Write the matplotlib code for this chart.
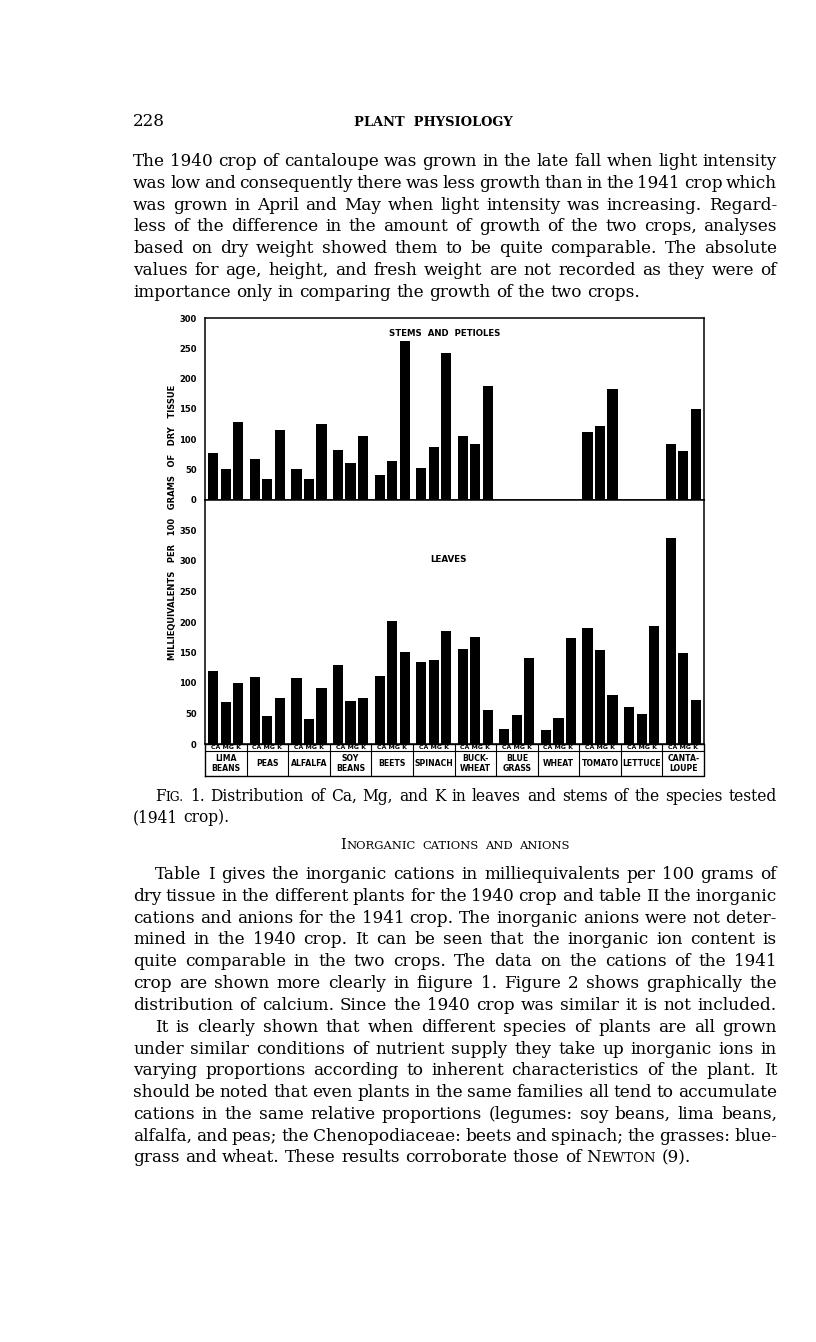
import matplotlib
matplotlib.use("Agg")
import matplotlib.pyplot as plt
import numpy as np

W, H = 816, 1342
SERIF = "DejaVu Serif"
SANS = "DejaVu Sans"

# chart data (milliequivalents per 100 g dry tissue, 1941 crop)
crops = ["LIMA\nBEANS", "PEAS", "ALFALFA", "SOY\nBEANS", "BEETS", "SPINACH",
         "BUCK-\nWHEAT", "BLUE\nGRASS", "WHEAT", "TOMATO", "LETTUCE", "CANTA-\nLOUPE"]
ions = ["Ca", "Mg", "K"]
nan = np.nan
stems_ca = [77, 68, 51, 82, 42, 52, 106, nan, nan, 112, nan, 93]
stems_mg = [51, 34, 34, 61, 65, 87, 93, nan, nan, 122, nan, 81]
stems_k = [128, 116, 125, 105, 262, 242, 188, nan, nan, 183, nan, 150]
leaves_ca = [119, 110, 109, 129, 111, 134, 156, 24, 23, 190, 60, 338]
leaves_mg = [69, 46, 41, 70, 201, 138, 175, 48, 42, 154, 50, 150]
leaves_k = [100, 76, 92, 76, 151, 185, 55, 141, 173, 80, 194, 72]
stem_ticks = [0, 50, 100, 150, 200, 250, 300]
leaf_ticks = [0, 50, 100, 150, 200, 250, 300, 350]

# page text
para1 = [
    "The 1940 crop of cantaloupe was grown in the late fall when light intensity",
    "was low and consequently there was less growth than in the 1941 crop which",
    "was grown in April and May when light intensity was increasing.  Regard-",
    "less of the difference in the amount of growth of the two crops, analyses",
    "based on dry weight showed them to be quite comparable.  The absolute",
    "values for age, height, and fresh weight are not recorded as they were of",
    "importance only in comparing the growth of the two crops.",
]
para2 = [
    "Table I gives the inorganic cations in milliequivalents per 100 grams of",
    "dry tissue in the different plants for the 1940 crop and table II the inorganic",
    "cations and anions for the 1941 crop.  The inorganic anions were not deter-",
    "mined in the 1940 crop.  It can be seen that the inorganic ion content is",
    "quite comparable in the two crops.  The data on the cations of the 1941",
    "crop are shown more clearly in fiigure 1.  Figure 2 shows graphically the",
    "distribution of calcium.  Since the 1940 crop was similar it is not included.",
]
para3 = [
    "It is clearly shown that when different species of plants are all grown",
    "under similar conditions of nutrient supply they take up inorganic ions in",
    "varying proportions according to inherent characteristics of the plant.  It",
    "should be noted that even plants in the same families all tend to accumulate",
    "cations in the same relative proportions (legumes: soy beans, lima beans,",
    "alfalfa, and peas; the Chenopodiaceae: beets and spinach; the grasses: blue-",
    "grass and wheat.  These results corroborate those of ~Newton (9).",
]

fig = plt.figure(figsize=(W / 100, H / 100), dpi=100)
renderer = fig.canvas.get_renderer()


def make_word(word, size):
    # a leading '~' means small caps: capitals full size, the rest smaller capitals
    if word.startswith("~"):
        runs = []
        for ch in word[1:]:
            big = ch.isupper()
            if runs and runs[-1][1] == big:
                runs[-1][0] += ch
            else:
                runs.append([ch, big])
        specs = [(r.upper(), size if big else size * 0.78) for r, big in runs]
    else:
        specs = [(word, size)]
    parts = []
    off = 0
    for s, sz in specs:
        t = fig.text(0, 0, s, fontsize=sz, family=SERIF, va="baseline", ha="left")
        parts.append((t, off))
        off += t.get_window_extent(renderer).width
    return parts, off


def text_line(line, x0, x1, y, size, justify=True, center=None):
    words = [make_word(w, size) for w in line.split()]
    total = sum(w for _, w in words)
    space = 0.318 * size * 100 / 72
    n = len(words) - 1
    gap = (x1 - x0 - total) / n if (justify and n > 0) else space
    if center is not None:
        gap = space * 1.4
        x0 = center - (total + gap * n) / 2
    x = x0
    for parts, w in words:
        for t, off in parts:
            t.set_position(((x + off) / W, 1 - y / H))
        x += w + gap


LEFT, RIGHT, INDENT = 133, 777, 155
STEP = 21.8
BODY = 12.2

# running head
fig.text(LEFT / W, 1 - 126 / H, "228", fontsize=BODY, family=SERIF, va="baseline")
fig.text(433 / W, 1 - 126 / H, "PLANT  PHYSIOLOGY", fontsize=9.4, family=SERIF,
         va="baseline", ha="center", weight="bold")

for i, line in enumerate(para1):
    text_line(line, LEFT, RIGHT, 166 + STEP * i, BODY, justify=i < len(para1) - 1)

# caption and heading
text_line("~Fig. 1.  Distribution of Ca, Mg, and K in leaves and stems of the species tested",
          INDENT, RIGHT, 801, 11.2)
text_line("(1941 crop).", LEFT, RIGHT, 822, 11.2, justify=False)
text_line("~Inorganic ~cations ~and ~anions", LEFT, RIGHT, 849, 10.6, center=455)

for i, line in enumerate(para2):
    text_line(line, INDENT if i == 0 else LEFT, RIGHT, 879 + STEP * i, BODY)
for i, line in enumerate(para3):
    text_line(line, INDENT if i == 0 else LEFT, RIGHT, 1031.7 + STEP * i, BODY,
              justify=i < len(para3) - 1)

# chart
x0, x1 = 205, 704
ax_s = fig.add_axes([x0 / W, 1 - 500 / H, (x1 - x0) / W, 182 / H])
ax_l = fig.add_axes([x0 / W, 1 - 744 / H, (x1 - x0) / W, 244 / H])
groups = np.arange(len(crops))
offsets = [0.2, 0.5, 0.8]

for ax, series, ymax, ticks in [
    (ax_s, [stems_ca, stems_mg, stems_k], 300, stem_ticks),
    (ax_l, [leaves_ca, leaves_mg, leaves_k], 400, leaf_ticks),
]:
    for off, vals in zip(offsets, series):
        ax.bar(groups + off, vals, width=0.245, color="black", linewidth=0)
    ax.set_xlim(0, len(crops))
    ax.set_ylim(0, ymax)
    ax.set_xticks([])
    ax.set_yticks(ticks)
    ax.set_yticklabels([str(t) for t in ticks], fontsize=6.0, weight="bold", family=SANS)
    ax.tick_params(axis="y", length=0, pad=6)
    for sp in ax.spines.values():
        sp.set_linewidth(1.1)

fig.text(445 / W, 1 - 333 / H, "STEMS  AND  PETIOLES", fontsize=6.2, weight="bold",
         family=SANS, ha="center", va="center")
fig.text(448 / W, 1 - 560 / H, "LEAVES", fontsize=6.3, weight="bold",
         family=SANS, ha="center", va="center")
fig.text(172 / W, 1 - 522 / H, "MILLIEQUIVALENTS   PER   100   GRAMS   OF   DRY   TISSUE",
         fontsize=6.0, weight="bold", family=SANS, rotation=90, ha="center", va="center")

# table of ion / crop labels under the bars
ax_t = fig.add_axes([x0 / W, 1 - 776 / H, (x1 - x0) / W, 32 / H])
ax_t.set_xlim(0, len(crops))
ax_t.set_ylim(0, 1)
ax_t.axis("off")
split = 1 - 7 / 32
ax_t.plot([0, len(crops), len(crops), 0, 0], [0, 0, 1, 1, 0], color="black", lw=1.0,
          clip_on=False)
ax_t.plot([0, len(crops)], [split, split], color="black", lw=0.8)
for k in range(1, len(crops)):
    ax_t.plot([k, k], [0, 1], color="black", lw=0.8)
ion_label = " ".join(i.upper() for i in ions)
for k, name in enumerate(crops):
    ax_t.text(k + 0.5, (1 + split) / 2, ion_label, fontsize=4.5, weight="bold",
              family=SANS, ha="center", va="center")
    ax_t.text(k + 0.5, split / 2, name, fontsize=5.6, weight="bold", family=SANS,
              ha="center", va="center", linespacing=1.1)

fig.savefig("out.png", dpi=100)
